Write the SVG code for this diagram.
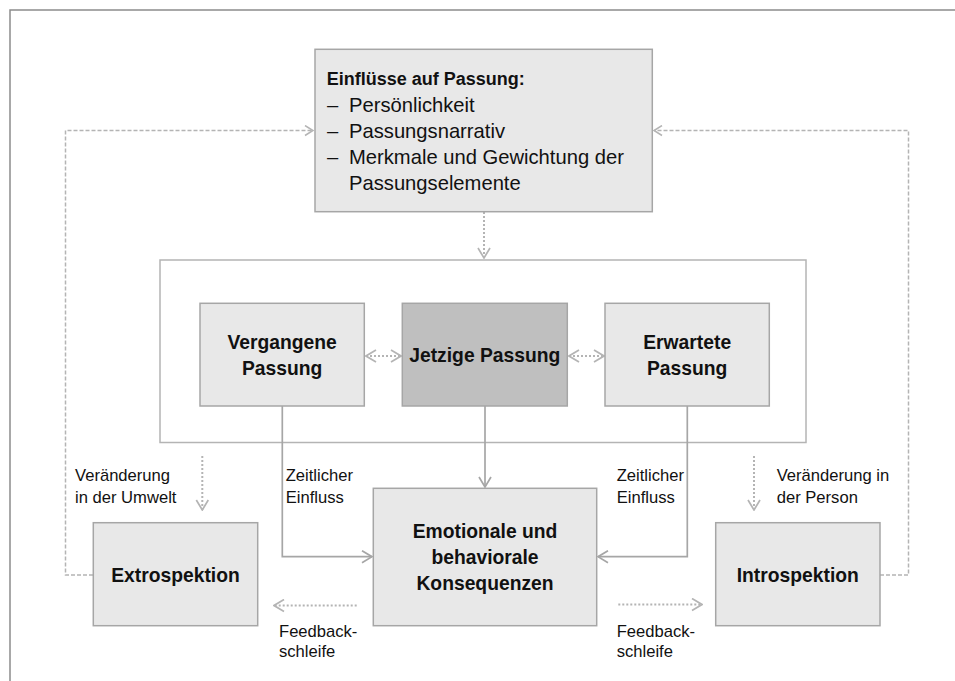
<svg xmlns="http://www.w3.org/2000/svg" width="955" height="681" viewBox="0 0 955 681">
<style>
  .box { fill: #e8e8e8; stroke: #a6a6a6; stroke-width: 1.5; }
  .dark { fill: #bfbfbf; stroke: #a6a6a6; stroke-width: 1.5; }
  .frame { fill: none; stroke: #b4b4b4; stroke-width: 1.5; }
  .t { font-family: "Liberation Sans", Arial, sans-serif; fill: #111111; }
  .b { font-weight: bold; font-size: 19.3px; }
  .title { font-weight: bold; font-size: 18px; }
  .item { font-size: 20.2px; }
  .lbl { font-size: 16.6px; }
  .solid { fill: none; stroke: #a6a6a6; stroke-width: 1.7; }
  .dash { fill: none; stroke: #b4b4b4; stroke-width: 1.5; stroke-dasharray: 4 2; }
  .dot { fill: none; stroke: #b4b4b4; stroke-width: 2; stroke-dasharray: 2 2; }
</style>
<defs>
  <marker id="ah" viewBox="0 0 12 14" refX="11" refY="7" markerWidth="12" markerHeight="14" markerUnits="userSpaceOnUse" orient="auto-start-reverse">
    <path d="M1,1 L11,7 L1,13" fill="none" stroke="#a6a6a6" stroke-width="1.7"/>
  </marker>
  <marker id="ahl" viewBox="0 0 12 14" refX="11" refY="7" markerWidth="12" markerHeight="14" markerUnits="userSpaceOnUse" orient="auto-start-reverse">
    <path d="M1,1 L11,7 L1,13" fill="none" stroke="#b4b4b4" stroke-width="1.7"/>
  </marker>
  <marker id="ahs" viewBox="0 0 10 12" refX="9" refY="6" markerWidth="10" markerHeight="12" markerUnits="userSpaceOnUse" orient="auto-start-reverse">
    <path d="M1,1 L9,6 L1,11" fill="none" stroke="#b4b4b4" stroke-width="1.5"/>
  </marker>
</defs>
<rect width="955" height="681" fill="#ffffff"/>
<path d="M10,681 L10,10 L955,10" fill="none" stroke="#8c8c8c" stroke-width="1.5"/>

<g id="frame">
  <rect class="frame" x="160" y="260" width="646" height="182.5"/>
</g>

<g id="connectors">
  <path class="dash" d="M93,575 L65.5,575 L65.5,130.5 L313,130.5" marker-end="url(#ahs)"/>
  <path class="dash" d="M880,575 L908.5,575 L908.5,130.5 L654,130.5" marker-end="url(#ahs)"/>
  <path class="dot" d="M484,212 L484,258" marker-end="url(#ahl)"/>
  <path class="dot" d="M366,356 L401,356" marker-start="url(#ahl)" marker-end="url(#ahl)"/>
  <path class="dot" d="M569,356 L604,356" marker-start="url(#ahl)" marker-end="url(#ahl)"/>
  <path class="solid" d="M485,406 L485,487" marker-end="url(#ah)"/>
  <path class="solid" d="M282.3,406 L282.3,556.7 L372,556.7" marker-end="url(#ah)"/>
  <path class="solid" d="M687.3,406 L687.3,556.7 L598,556.7" marker-end="url(#ah)"/>
  <path class="dot" d="M202.3,456 L202.3,510" marker-end="url(#ahl)"/>
  <path class="dot" d="M754,456 L754,510" marker-end="url(#ahl)"/>
  <path class="dot" d="M356.7,605.5 L274,605.5" marker-end="url(#ahl)"/>
  <path class="dot" d="M618.3,604.5 L702,604.5" marker-end="url(#ahl)"/>
</g>

<g id="einfluesse">
  <rect class="box" x="315" y="49.3" width="337.3" height="162.4"/>
  <text class="t title" x="326.7" y="85">Einflüsse auf Passung:</text>
  <text class="t item" x="327" y="111.5">–</text>
  <text class="t item" x="349" y="111.5">Persönlichkeit</text>
  <text class="t item" x="327" y="137.5">–</text>
  <text class="t item" x="349" y="137.5">Passungsnarrativ</text>
  <text class="t item" x="327" y="163.5">–</text>
  <text class="t item" x="349" y="163.5">Merkmale und Gewichtung der</text>
  <text class="t item" x="349" y="189.5">Passungselemente</text>
</g>

<g id="vergangene">
  <rect class="box" x="200" y="303.3" width="164.3" height="102.7"/>
  <text class="t b" x="282.2" y="348.5" text-anchor="middle">Vergangene</text>
  <text class="t b" x="282.2" y="375" text-anchor="middle">Passung</text>
</g>

<g id="jetzige">
  <rect class="dark" x="402.3" y="303.3" width="165" height="102.7"/>
  <text class="t b" x="484.8" y="362" text-anchor="middle">Jetzige Passung</text>
</g>

<g id="erwartete">
  <rect class="box" x="605" y="303.3" width="164.3" height="102.7"/>
  <text class="t b" x="687.2" y="348.5" text-anchor="middle">Erwartete</text>
  <text class="t b" x="687.2" y="375" text-anchor="middle">Passung</text>
</g>

<g id="emotionale">
  <rect class="box" x="373.3" y="488.3" width="223.4" height="137.4"/>
  <text class="t b" x="485" y="537.5" text-anchor="middle">Emotionale und</text>
  <text class="t b" x="485" y="563.5" text-anchor="middle">behaviorale</text>
  <text class="t b" x="485" y="590" text-anchor="middle">Konsequenzen</text>
</g>

<g id="extrospektion">
  <rect class="box" x="93.3" y="522.7" width="164.4" height="103"/>
  <text class="t b" x="175.5" y="582" text-anchor="middle">Extrospektion</text>
</g>

<g id="introspektion">
  <rect class="box" x="715.7" y="522.7" width="164.3" height="103"/>
  <text class="t b" x="797.8" y="582" text-anchor="middle">Introspektion</text>
</g>

<g id="labels">
  <text class="t lbl" x="75" y="480.5">Veränderung</text>
  <text class="t lbl" x="75" y="502.7">in der Umwelt</text>
  <text class="t lbl" x="285.7" y="480.5">Zeitlicher</text>
  <text class="t lbl" x="285.7" y="502.7">Einfluss</text>
  <text class="t lbl" x="616.7" y="480.5">Zeitlicher</text>
  <text class="t lbl" x="616.7" y="502.7">Einfluss</text>
  <text class="t lbl" x="776.7" y="480.5">Veränderung in</text>
  <text class="t lbl" x="776.7" y="502.7">der Person</text>
  <text class="t lbl" x="279" y="636.7">Feedback-</text>
  <text class="t lbl" x="279" y="657.3">schleife</text>
  <text class="t lbl" x="616.7" y="636.7">Feedback-</text>
  <text class="t lbl" x="616.7" y="657.3">schleife</text>
</g>
</svg>
